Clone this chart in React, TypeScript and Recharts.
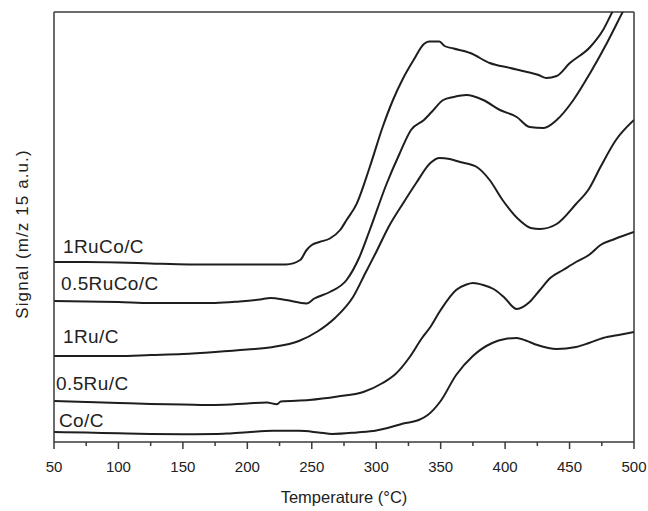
import React from 'react';
import { LineChart, Line, XAxis, YAxis, ReferenceLine } from 'recharts';

// Temperature (°C) / signal (a.u., arbitrary offset units) pairs per sample
const coC: [number, number][] = [
  [50, 10], [75, 9.5], [100, 8.7], [125, 8], [150, 7.8], [175, 8], [185, 8.5], [200, 9.8],
  [220, 11.2], [240, 11.2], [255, 9.6], [266, 8], [285, 9.6], [300, 11.5], [308, 13.7],
  [321, 18.5], [333, 22], [340, 27], [350, 41], [362, 67], [375, 86], [390, 99], [400, 103],
  [409, 104], [416, 101.5], [425, 97], [440, 93], [455, 95], [465, 99], [476, 104],
  [490, 107.5], [500, 110],
];

const ru05C: [number, number][] = [
  [50, 41], [75, 40], [100, 39], [125, 38], [150, 37.5], [175, 37], [200, 38.5], [215, 39.5],
  [223, 37.8], [226, 40.5], [248, 42], [270, 45.5], [290, 50], [305, 59], [315, 68], [326, 85],
  [335, 103], [342, 115], [350, 132], [362, 152], [370, 157.5], [375, 159], [383, 157],
  [391, 153], [399, 145], [409, 133], [419, 140], [427, 152], [435, 164], [445, 172],
  [455, 180], [465, 187], [474, 197], [485, 203], [500, 210],
];

const ru1C: [number, number][] = [
  [50, 86], [75, 86], [100, 86], [125, 87], [150, 88], [175, 90], [200, 92.5], [220, 95],
  [240, 101], [255, 111], [268, 124], [282, 145], [292, 170], [300, 190], [310, 216],
  [321, 239], [331, 259], [342, 279], [349, 284], [357, 283], [365, 280], [378, 275],
  [388, 262], [398, 242], [411, 222], [420, 214], [427, 213], [440, 218], [455, 238],
  [465, 253], [474, 275], [486, 302], [500, 322],
];

const ruCo05C: [number, number][] = [
  [50, 141], [75, 140.5], [100, 140], [125, 139], [155, 139], [175, 139], [194, 140.5],
  [210, 142.5], [218, 144], [230, 142], [246, 138.5], [252, 143.5], [264, 150], [277, 162],
  [287, 185], [295, 212], [308, 258], [318, 288], [327, 312], [337, 322], [343, 330],
  [352, 342], [360, 345], [370, 347], [383, 342], [396, 332], [409, 325], [419, 315],
  [430, 314], [440, 322], [453, 342], [466, 369], [479, 399], [492, 432], [496, 442],
];

const ruCo1C: [number, number][] = [
  [50, 180], [75, 180], [100, 179.5], [125, 178.5], [155, 177.5], [194, 177.5], [230, 177.5],
  [241, 182], [246, 192], [250, 197], [256, 200], [264, 203.5], [272, 212], [277, 222],
  [285, 238.7], [295, 275], [305, 315], [313, 342], [321, 364], [329, 382], [337, 398],
  [341, 400.5], [349, 400.5], [353, 396], [360, 393.5], [373, 389], [388, 379], [404, 374],
  [417, 370], [426, 367], [432, 364], [440, 366], [450, 378.7], [466, 395], [476, 412],
  [484, 432], [490, 445],
];

const seriesNames = ['1RuCo/C', '0.5RuCo/C', '1Ru/C', '0.5Ru/C', 'Co/C'];
const seriesData = [ruCo1C, ruCo05C, ru1C, ru05C, coC];
const labelOffsets = [
  { dx: 9, dy: -16 },
  { dx: 7, dy: -17.5 },
  { dx: 9, dy: -19.5 },
  { dx: 2, dy: -17.5 },
  { dx: 5, dy: -11.5 },
];

const xTicks = [50, 75, 100, 125, 150, 175, 200, 225, 250, 275, 300, 325, 350, 375, 400, 425, 450, 475, 500];

const FONT = '"Liberation Sans", Arial, Helvetica, sans-serif';
const INK = '#1e1e1e';
const FRAME = '#3a3a3a';

const XTick = (props: any) => {
  const { x, y, payload } = props;
  const v = payload.value as number;
  const major = v % 50 === 0;
  return (
    <g>
      <line x1={x} x2={x} y1={y} y2={y + (major ? 7 : 4)} stroke={FRAME} strokeWidth={1.5} />
      {major && (
        <text x={x} y={y + 29.5} textAnchor="middle" fontSize={15} fontFamily={FONT} fill="#222">
          {v}
        </text>
      )}
    </g>
  );
};

const makeSeriesLabel = (i: number) => (props: any) => {
  const { x, y, index } = props;
  if (index !== 0) return null;
  const o = labelOffsets[i];
  return (
    <text
      x={x + o.dx}
      y={y + o.dy}
      dominantBaseline="central"
      textAnchor="start"
      fontSize={19}
      letterSpacing={0.4}
      fontFamily={FONT}
      fill="#222"
    >
      {seriesNames[i]}
    </text>
  );
};

export default function App() {
  return (
    <div style={{ position: 'absolute', left: 0, top: 0, width: 648, height: 511 }}>
      <LineChart width={648} height={511} margin={{ top: 12, right: 14, left: 0, bottom: 0 }}>
        <XAxis
          type="number"
          dataKey="t"
          domain={[50, 500]}
          ticks={xTicks}
          interval={0}
          allowDataOverflow
          height={69}
          tickSize={0}
          tickMargin={0}
          tickLine={false}
          tick={<XTick />}
          axisLine={{ stroke: FRAME, strokeWidth: 1.5 }}
          label={{
            content: () => (
              <text x={344} y={497} textAnchor="middle" dominantBaseline="central" fontSize={16.5} fontFamily={FONT} fill="#222">
                Temperature (°C)
              </text>
            ),
          }}
        />
        <YAxis
          type="number"
          dataKey="v"
          domain={[0, 430]}
          allowDataOverflow
          width={54}
          tick={false}
          tickLine={false}
          axisLine={{ stroke: FRAME, strokeWidth: 1.5 }}
          label={{
            content: () => (
              <text
                x={22}
                y={234}
                transform="rotate(-90 22 234)"
                textAnchor="middle"
                dominantBaseline="central"
                fontSize={17}
                letterSpacing={1.1}
                fontFamily={FONT}
                fill="#222"
              >
                Signal (m/z 15 a.u.)
              </text>
            ),
          }}
        />
        <ReferenceLine y={430} stroke={FRAME} strokeWidth={1.5} ifOverflow="visible" />
        <ReferenceLine x={500} stroke={FRAME} strokeWidth={1.5} ifOverflow="visible" />
        {seriesData.map((d, i) => (
          <Line
            key={seriesNames[i]}
            data={d.map(([t, v]) => ({ t, v }))}
            dataKey="v"
            type="monotone"
            stroke={INK}
            strokeWidth={2}
            dot={false}
            isAnimationActive={false}
            label={makeSeriesLabel(i)}
          />
        ))}
      </LineChart>
    </div>
  );
}
